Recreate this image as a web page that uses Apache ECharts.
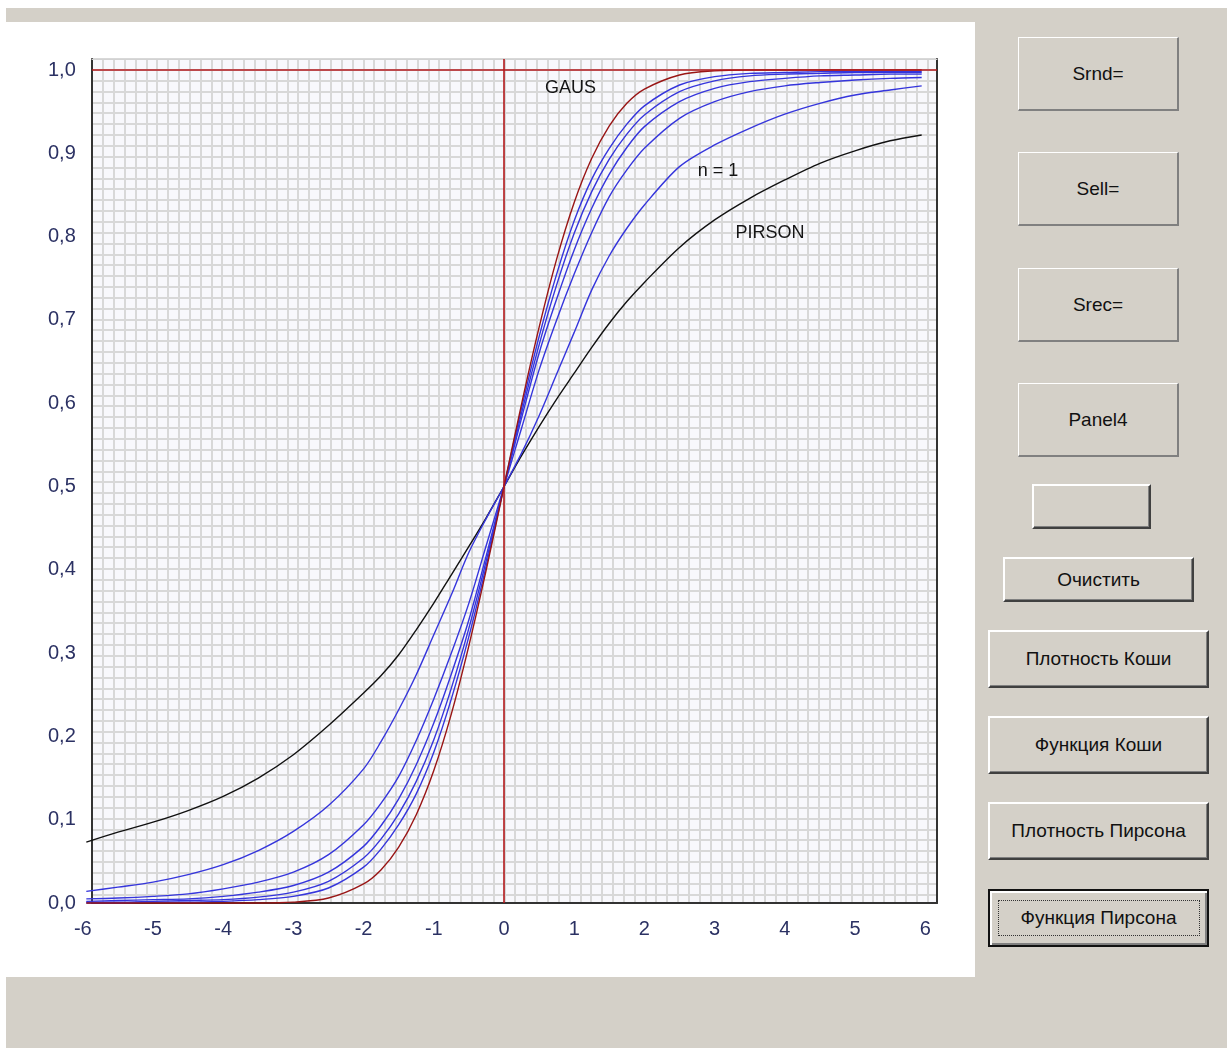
<!DOCTYPE html>
<html>
<head>
<meta charset="utf-8">
<script src="https://cdn.jsdelivr.net/npm/echarts@6/dist/echarts.min.js"></script>
<style>
  html, body { margin:0; padding:0; background:#ffffff; width:1227px; height:1048px; overflow:hidden; }
  #win { position:absolute; left:6px; top:8px; width:1221px; height:1040px; background:#d4d0c8; }
  #panel { position:absolute; left:6px; top:22px; width:969px; height:955px; background:#ffffff; }
  #chart { position:absolute; left:0; top:0; width:1227px; height:1048px; }
  .pnl, .btn { position:absolute; background:#d4d0c8; box-sizing:border-box; display:flex; align-items:center; justify-content:center;
    font-family:"Liberation Sans", Arial, sans-serif; font-size:19px; color:#111; }
  .pnl { border-top:1px solid #ffffff; border-left:1px solid #ffffff; border-right:2px solid #808080; border-bottom:2px solid #808080; }
  .btn { border-top:2px solid #ffffff; border-left:2px solid #ffffff; border-right:2px solid #404040; border-bottom:2px solid #404040;
    box-shadow: inset -1px -1px 0 #808080; }
  .focus { border:2px solid #111; box-shadow: inset 2px 2px 0 #ffffff, inset -2px -2px 0 #808080; }
  .focus span { border:1px dotted #333; padding:6px 0; display:block; width:200px; text-align:center; }
</style>
</head>
<body>
<div id="win"></div>
<div id="panel"></div>
<div class="pnl" style="left:1018px; top:37px; width:161px; height:74px;">Srnd=</div>
<div class="pnl" style="left:1018px; top:152px; width:161px; height:74px;">Sell=</div>
<div class="pnl" style="left:1018px; top:268px; width:161px; height:74px;">Srec=</div>
<div class="pnl" style="left:1018px; top:383px; width:161px; height:74px;">Panel4</div>
<div class="btn" style="left:1032px; top:484px; width:119px; height:45px;"></div>
<div class="btn" style="left:1003px; top:557px; width:191px; height:45px;">Очистить</div>
<div class="btn" style="left:988px; top:630px; width:221px; height:58px;">Плотность Коши</div>
<div class="btn" style="left:988px; top:716px; width:221px; height:58px;">Функция Коши</div>
<div class="btn" style="left:988px; top:802px; width:221px; height:58px;">Плотность Пирсона</div>
<div class="btn focus" style="left:988px; top:889px; width:221px; height:58px;"><span>Функция Пирсона</span></div>
<div id="chart"></div>
<script>
// ---- data ----
const xs = [-5.95,-5.5,-5,-4.5,-4,-3.5,-3,-2.5,-2,-1.75,-1.5,-1.25,-1,-0.75,-0.5,-0.25,0,
            0.25,0.5,0.75,1,1.25,1.5,1.75,2,2.5,3,3.5,4,4.5,5,5.5,5.95];
const gaus   = [0,0,0,0,0,0,0.001,0.006,0.023,0.040,0.067,0.106,0.159,0.227,0.309,0.401,0.5,
                0.599,0.691,0.773,0.841,0.894,0.933,0.960,0.977,0.994,0.999,1,1,1,1,1,1];
const blue5  = [0,0,0.001,0.001,0.002,0.004,0.008,0.018,0.043,0.065,0.094,0.131,0.181,0.245,0.320,0.406,0.5,
                0.594,0.680,0.755,0.819,0.869,0.906,0.935,0.957,0.982,0.992,0.996,0.997,0.998,0.998,0.998,0.998];
const blue4  = [0.001,0.001,0.002,0.003,0.004,0.007,0.013,0.026,0.054,0.077,0.107,0.146,0.196,0.258,0.330,0.412,0.5,
                0.588,0.670,0.742,0.804,0.854,0.893,0.923,0.946,0.974,0.987,0.993,0.995,0.996,0.997,0.997,0.997];
const blue3  = [0.002,0.003,0.004,0.005,0.008,0.013,0.021,0.037,0.068,0.093,0.125,0.166,0.216,0.275,0.340,0.418,0.5,
                0.582,0.660,0.725,0.784,0.834,0.875,0.907,0.932,0.962,0.978,0.986,0.990,0.993,0.994,0.995,0.995];
const blue2  = [0.005,0.006,0.008,0.011,0.017,0.025,0.037,0.058,0.094,0.120,0.152,0.195,0.245,0.300,0.360,0.430,0.5,
                0.570,0.640,0.700,0.755,0.805,0.848,0.880,0.906,0.942,0.962,0.974,0.981,0.985,0.988,0.990,0.991];
const blue1  = [0.014,0.019,0.025,0.034,0.046,0.063,0.086,0.117,0.161,0.194,0.232,0.274,0.322,0.370,0.421,0.462,0.5,
                0.540,0.585,0.635,0.685,0.736,0.777,0.810,0.838,0.884,0.910,0.930,0.947,0.960,0.970,0.976,0.981];
const pirson = [0.073,0.085,0.097,0.111,0.128,0.150,0.178,0.213,0.252,0.273,0.298,0.328,0.360,0.394,0.428,0.463,0.5,
                0.537,0.572,0.605,0.636,0.667,0.696,0.722,0.745,0.787,0.820,0.846,0.868,0.888,0.903,0.915,0.922];
const xTickMin = -6, xTickMax = 6, xTickStep = 1;
const yTickMin = 0, yTickMax = 1, yTickStep = 0.1;
const curveNotes = [ { text:'GAUS', at:[0.947, 0.978] }, { text:'n = 1', at:[3.05, 0.879] }, { text:'PIRSON', at:[3.79, 0.804] } ];

// ---- build chart ----
const FONT = '"Liberation Sans", Arial, sans-serif';
const pairs = ys => xs.map((x, i) => [x, ys[i]]);
const chart = echarts.init(document.getElementById('chart'), null, { renderer:'canvas' });
const off = { show:false };

function curve(name, ys, color, z) {
  return { name, type:'line', xAxisIndex:2, yAxisIndex:2, data:pairs(ys), showSymbol:false, symbol:'none',
           smooth:0.3, clip:false, z, silent:true,
           lineStyle:{ color, width:1.4 } };
}
function notePoint(n) {
  return { coord:n.at, symbol:'circle', symbolSize:1, itemStyle:{ color:'rgba(0,0,0,0)' },
           label:{ show:true, position:'inside', formatter:n.text, color:'#151515', fontSize:18, fontFamily:FONT } };
}

const series = [
  { type:'line', xAxisIndex:0, yAxisIndex:0, data:[[0,0.5]], symbol:'none', lineStyle:{ opacity:0 }, z:1, silent:true,
    markLine:{ silent:true, symbol:['none','none'], label:{ show:false }, animation:false,
      lineStyle:{ color:'#b3191c', width:1.6, type:'solid' }, data:[ { xAxis:0 }, { yAxis:1 } ] } },
  curve('PIRSON', pirson, '#111111', 3),
  curve('n1', blue1, '#3535dc', 3),
  curve('n2', blue2, '#3535dc', 3),
  curve('n3', blue3, '#3535dc', 3),
  curve('n4', blue4, '#3535dc', 3),
  curve('n5', blue5, '#3535dc', 3),
  curve('GAUS', gaus, '#991515', 4),
];
series[1].markPoint = { silent:true, animation:false, data: curveNotes.map(notePoint) };

chart.setOption({
  animation:false,
  backgroundColor:'transparent',
  grid:[
    { left:92, top:59, width:845, height:844, show:true, backgroundColor:'#f8f8fc', borderWidth:0 },
    { left:82.8, top:70, width:842.4, height:833 }
  ],
  xAxis:[
    { gridIndex:0, type:'value', min:-5.869, max:6.168, axisLine:{ show:true, onZero:false, lineStyle:{ color:'#333333', width:2 } },
      axisTick:off, axisLabel:off, splitLine:off },
    { gridIndex:0, type:'value', position:'top', min:0, max:77.88, interval:1,
      axisLine:{ show:true, onZero:false, lineStyle:{ color:'#d2d2d2', width:1 } }, axisTick:off, axisLabel:off,
      splitLine:{ show:true, lineStyle:{ color:'#d8d8d8', width:2 } } },
    { gridIndex:1, type:'value', min:xTickMin, max:xTickMax, interval:xTickStep,
      axisLine:off, axisTick:off, splitLine:off,
      axisLabel:{ show:true, fontSize:20, color:'#2b3163', margin:16, fontFamily:FONT, formatter:v => String(v) } }
  ],
  yAxis:[
    { gridIndex:0, type:'value', min:0, max:1.0132, axisLine:{ show:true, onZero:false, lineStyle:{ color:'#333333', width:2 } },
      axisTick:off, axisLabel:off, splitLine:off },
    { gridIndex:0, type:'value', position:'right', inverse:true, min:0, max:77.79, interval:1,
      axisLine:{ show:true, onZero:false, lineStyle:{ color:'#333333', width:2 } }, axisTick:off, axisLabel:off,
      splitLine:{ show:true, lineStyle:{ color:'#d8d8d8', width:2 } } },
    { gridIndex:1, type:'value', min:yTickMin, max:yTickMax, interval:yTickStep,
      axisLine:off, axisTick:off, splitLine:off,
      axisLabel:{ show:true, fontSize:20, color:'#2b3163', margin:7, fontFamily:FONT,
                  formatter:v => v.toFixed(1).replace('.', ',') } }
  ],
  series
});
</script>
</body>
</html>
